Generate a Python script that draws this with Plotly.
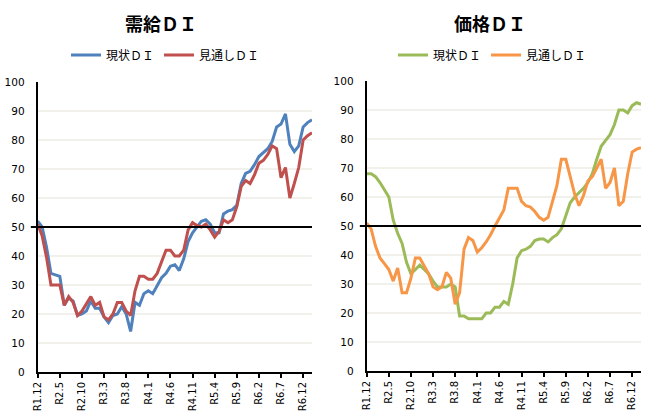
import plotly.graph_objects as go

# months R1.12 .. R7.2 (monthly)
months = ['R1.12'] + [f'R{y}.{m}' for y in range(2, 7) for m in range(1, 13)] + ['R7.1', 'R7.2']
tick_labels = months[::5]

# 需給ＤＩ
supply_now = [52, 50, 43, 34, 33.5, 33, 23, 25.5, 24.5, 19.5, 20, 21, 24.5, 22, 22, 19, 17, 19.5, 20, 22.5,
              20, 14, 24, 23, 27, 28, 27, 30, 32.5, 34, 36.5, 37, 35, 39, 45, 48, 50, 52, 52.5, 51,
              48, 48, 54.5, 55.5, 56, 57.5, 65, 68.5, 69.2, 71.5, 74.3, 75.5, 77, 79.5, 84.5, 85.5, 89, 78.5, 76, 78,
              84.5, 86, 87]
supply_outlook = [51, 47, 39.5, 30, 30, 30, 23, 26, 24, 19.5, 21, 23.5, 26, 23, 24, 19, 18, 20, 24, 24,
                  21, 19.5, 28, 33, 33, 32, 32, 34, 38, 42, 42, 40, 40, 42, 49, 51.5, 50.5, 50, 51, 49,
                  46.5, 48.5, 52.5, 51.5, 52.5, 57, 64, 66, 65, 68, 72, 73, 75, 78, 77, 67, 70.5, 60, 65, 70.5,
                  80, 81.5, 82.5]

# 価格ＤＩ
price_now = [68, 68, 67, 65, 62.5, 60, 52, 47.5, 44, 37.5, 33.5, 35, 36.5, 35, 33.5, 31, 29, 29, 29, 30,
             29, 19, 19, 18, 18, 18, 18, 20, 20, 22, 22, 24, 23, 30, 39, 41.5, 42, 43, 45, 45.5,
             45.5, 44.5, 46, 47, 49, 53.5, 58, 60, 61.5, 63, 65, 68, 73, 77.5, 79.5, 81.5, 85, 90, 90, 89,
             91.5, 92.5, 92]
price_outlook = [51, 49, 43, 39, 37, 35, 31, 35.5, 27, 27, 32, 39, 39, 36, 33.5, 29, 28, 29, 34, 32,
                 23, 27, 42, 46, 45, 41, 42.5, 44.5, 47, 50, 53, 55.5, 63, 63, 63, 58.5, 57, 56.5, 55, 53,
                 52, 53, 59, 64, 73, 73, 67, 61, 57, 60.5, 65.5, 67, 70, 73, 63, 65, 70, 57, 58.5, 68,
                 75.5, 76.5, 77]

threshold = 50

BLUE, RED, GREEN, ORANGE = '#4F81BD', '#C0504D', '#9BBB59', '#F79646'
JP = 'Noto Sans CJK JP'
NUM = 'DejaVu Sans'
W, H = 659, 418

fig = go.Figure()
fig.add_trace(go.Scatter(x=months, y=supply_now, name='現状ＤＩ', mode='lines',
                         line=dict(color=BLUE, width=3), xaxis='x', yaxis='y', legend='legend'))
fig.add_trace(go.Scatter(x=months, y=supply_outlook, name='見通しＤＩ', mode='lines',
                         line=dict(color=RED, width=3), xaxis='x', yaxis='y', legend='legend'))
fig.add_trace(go.Scatter(x=months, y=price_now, name='現状ＤＩ', mode='lines',
                         line=dict(color=GREEN, width=3), xaxis='x2', yaxis='y2', legend='legend2'))
fig.add_trace(go.Scatter(x=months, y=price_outlook, name='見通しＤＩ', mode='lines',
                         line=dict(color=ORANGE, width=3), xaxis='x2', yaxis='y2', legend='legend2'))

xax = dict(type='category', tickmode='array', tickvals=tick_labels, ticktext=tick_labels,
           tickangle=-90, showline=True, linecolor='black', linewidth=2, ticks='outside',
           ticklen=4, tickwidth=2, tickcolor='black', showgrid=False, zeroline=False, automargin=False,
           tickfont=dict(family=NUM, size=10, color='black'), range=[0, len(months) - 1])
yax = dict(range=[0, 100], dtick=10, showline=True, linecolor='black', linewidth=2,
           gridcolor='#F1F0EA', gridwidth=1.5, zeroline=False, ticks='', ticklabelstandoff=9,
           automargin=False, tickfont=dict(family=NUM, size=10.5, color='black'))

legend_style = dict(orientation='h', xanchor='left', yanchor='middle', itemwidth=30,
                    font=dict(family=JP, size=12, color='black'), bgcolor='rgba(0,0,0,0)')

fig.update_layout(
    width=W, height=H,
    margin=dict(l=0, r=0, t=0, b=0, autoexpand=False),
    plot_bgcolor='white', paper_bgcolor='white',
    xaxis=dict(xax, domain=[37.7 / W, 312 / W], anchor='y'),
    yaxis=dict(yax, domain=[46 / H, 336 / H], anchor='x'),
    xaxis2=dict(xax, domain=[366.7 / W, 641 / W], anchor='y2'),
    yaxis2=dict(yax, domain=[47 / H, 337 / H], anchor='x2'),
    legend=dict(legend_style, x=66 / W, y=1 - 55 / H),
    legend2=dict(legend_style, x=393 / W, y=1 - 55 / H),
    annotations=[
        dict(text='<b>需給ＤＩ</b>', x=161 / W, y=1 - 23 / H, xref='paper', yref='paper',
             xanchor='center', yanchor='middle', showarrow=False,
             font=dict(family=JP, size=18, color='black')),
        dict(text='<b>価格ＤＩ</b>', x=490 / W, y=1 - 23 / H, xref='paper', yref='paper',
             xanchor='center', yanchor='middle', showarrow=False,
             font=dict(family=JP, size=18, color='black')),
    ],
    shapes=[
        dict(type='line', xref='x domain', yref='y', x0=-0.025, x1=1, y0=threshold, y1=threshold,
             line=dict(color='black', width=2)),
        dict(type='line', xref='x2 domain', yref='y2', x0=-0.025, x1=1, y0=threshold, y1=threshold,
             line=dict(color='black', width=2)),
    ],
)

fig.write_html("out.html", config={'displayModeBar': False},
               post_script="document.body.style.margin='0';")
